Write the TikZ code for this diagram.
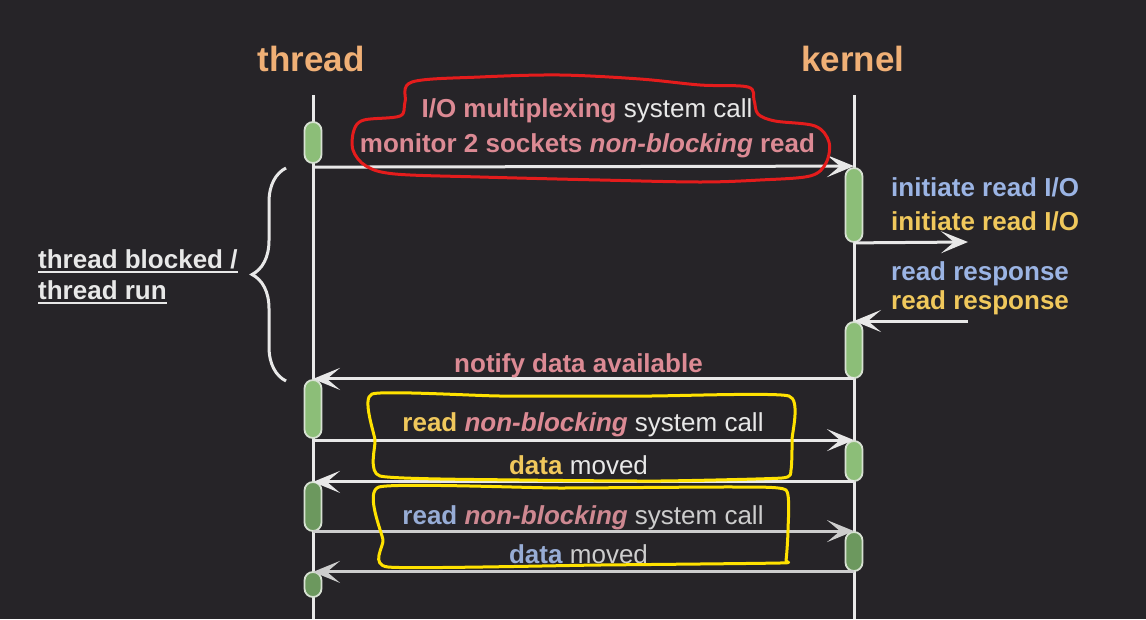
\documentclass[tikz,border=0pt]{standalone}
\usepackage{fontspec}
\setmainfont{Liberation Sans}
\usetikzlibrary{arrows.meta,decorations.pathreplacing,calc}
\definecolor{bgc}{RGB}{38,36,40}
\definecolor{linew}{RGB}{232,232,232}
\definecolor{lineg}{RGB}{205,205,205}
\definecolor{orangec}{RGB}{240,176,118}
\definecolor{pinkc}{RGB}{220,138,148}
\definecolor{bluec}{RGB}{155,180,228}
\definecolor{yelc}{RGB}{240,200,92}
\definecolor{gbar}{RGB}{140,190,120}
\definecolor{gbard}{RGB}{108,152,94}
\definecolor{barline}{RGB}{215,225,210}
\definecolor{redm}{RGB}{228,28,28}
\definecolor{yelm}{RGB}{255,226,0}
\tikzset{
  lifeline/.style={draw=linew, line width=3pt},
  bar/.style={draw=barline, fill=gbar, line width=1.8pt, rounded corners=8.5pt, minimum width=17pt, inner sep=0pt},
  msg/.style={draw=linew, line width=3pt, -{Stealth[length=27pt,width=22pt,inset=13pt]}},
  lbl/.style={inner sep=0pt, anchor=base, font=\fontsize{26}{30}\selectfont, text=linew},
  hdr/.style={inner sep=0pt, anchor=base, font=\fontsize{35}{40}\selectfont\bfseries, text=orangec},
  marker/.style={line width=3pt, line join=round, line cap=round}
}
\begin{document}
\begin{tikzpicture}[x=1pt,y=-1pt]
\fill[bgc] (0,0) rectangle (1146,619);
\useasboundingbox (0,0) rectangle (1146,619);

% headers
\node[hdr] (th) at (311,71) {thread};
\node[hdr] (kh) at (853,71) {kernel};

% lifelines
\coordinate (tt) at (313,95);
\coordinate (tbot) at (313,619);
\coordinate (kt) at (854,95);
\coordinate (kbot) at (854,619);
\draw[lifeline] (tt) -- (tbot);
\draw[lifeline] (kt) -- (kbot);

% activation bars
\node[bar, minimum height=41pt] (tb1) at (313,142.5) {};
\node[bar, minimum height=74pt] (kb1) at (854,205) {};
\node[bar, minimum height=56pt] (kb2) at (854,350) {};
\node[bar, minimum height=58pt] (tb2) at (313,409) {};
\node[bar, minimum height=40pt] (kb3) at (854,461) {};
\node[bar, fill=gbard, minimum height=49pt] (tb3) at (313,506.5) {};
\node[bar, fill=gbard, minimum height=39pt] (kb4) at (854,551.5) {};
\node[bar, fill=gbard, minimum height=25pt] (tb4) at (313,584.5) {};

% external coordinates
\coordinate (ext1) at (968,242);
\coordinate (ext2) at (968,321);

% messages
\draw[msg] (tb1.south |- kb1.north) -- ([yshift=1pt]kb1.north);
\draw[msg] (kb1.south) -- (ext1);
\draw[msg] (ext2) -- (ext2 -| kb2.north);
\draw[msg] (kb2.south) -- (kb2.south -| tb2.north);
\draw[msg] (tb2.south |- kb3.north) -- (kb3.north);
\draw[msg] (kb3.south) -- (kb3.south -| tb3.north);
\draw[msg, draw=lineg] (tb3.south |- kb4.north) -- (kb4.north);
\draw[msg, draw=lineg] (kb4.south) -- (kb4.south -| tb4.north);

% labels
\node[lbl] (l1) at (587,117) {\textcolor{pinkc}{\textbf{I/O multiplexing}} system call};
\node[lbl] (l2) at (587.5,152) {\textcolor{pinkc}{\textbf{monitor 2 sockets \textit{non-blocking} read}}};
\node[lbl, anchor=base west] (r1) at (891,196) {\textcolor{bluec}{\textbf{initiate read I/O}}};
\node[lbl, anchor=base west] (r2) at (891,230) {\textcolor{yelc}{\textbf{initiate read I/O}}};
\node[lbl, anchor=base west] (r3) at (891,280) {\textcolor{bluec}{\textbf{read response}}};
\node[lbl, anchor=base west] (r4) at (891,309) {\textcolor{yelc}{\textbf{read response}}};
\node[lbl] (l3) at (578.5,372) {\textcolor{pinkc}{\textbf{notify data available}}};
\node[lbl] (l4) at (583,431) {\textbf{\textcolor{yelc}{read} \textcolor{pinkc}{\textit{non-blocking}}} system call};
\node[lbl] (l5) at (578.5,474) {\textcolor{yelc}{\textbf{data}} moved};
\node[lbl, text=lineg] (l6) at (583,524) {\textbf{\textcolor{bluec!85!gray}{read} \textcolor{pinkc!85!gray}{\textit{non-blocking}}} system call};
\node[lbl, text=lineg] (l7) at (578.5,563) {\textcolor{bluec!85!gray}{\textbf{data}} moved};

% left brace label
\node[lbl, anchor=base west, font=\fontsize{26}{30}\selectfont\bfseries] (b1) at (38,268) {thread blocked /};
\node[lbl, anchor=base west, font=\fontsize{26}{30}\selectfont\bfseries] (b2) at (38,299) {thread run};
\draw[linew, line width=2pt] ([yshift=-4pt]b1.base west) -- ([yshift=-4pt]b1.base east);
\draw[linew, line width=2pt] ([yshift=-4pt]b2.base west) -- ([yshift=-4pt]b2.base east);
\coordinate (brB) at (286,381);
\coordinate (brT) at (286,168);
\draw[linew, line width=3pt, decorate, decoration={brace, amplitude=34pt}] (brB) -- (brT);

% hand-drawn markers
\draw[marker, draw=redm] plot[smooth cycle, tension=0.55] coordinates {
 (412,82) (480,77) (560,75) (640,79) (700,85) (748,87)
 (754,100) (758,114) (775,121) (815,126) (829,142) (826,163) (810,176)
 (760,180) (700,182) (600,180) (480,177) (395,174) (366,166) (353,150)
 (354,130) (364,120) (400,116) (405,102)};
\draw[marker, draw=yelm] plot[smooth cycle, tension=0.3] coordinates {
 (372,394) (500,396) (650,396) (789,396) (792,440) (791,470) (782,478)
 (660,481) (520,480) (380,476) (375,440)};
\draw[marker, draw=yelm] plot[smooth cycle, tension=0.3] coordinates {
 (379,487) (560,488) (734,487) (786,490) (788,530) (786,560) (780,563)
 (600,565) (388,567) (383,540)};
\end{tikzpicture}
\end{document}
